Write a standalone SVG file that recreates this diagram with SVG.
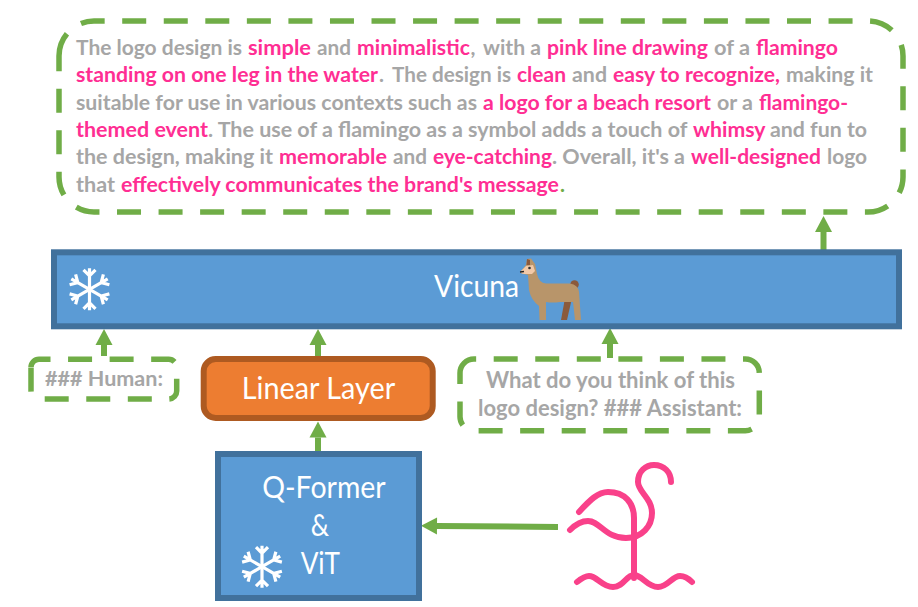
<svg xmlns="http://www.w3.org/2000/svg" width="918" height="607" viewBox="0 0 918 607">
<style>
.dash{fill:none;stroke:#70AD47;stroke-width:5.5;stroke-dasharray:24 17.55}
.blue{fill:#5B9BD5;stroke:#41719C;stroke-width:6}
.orange{fill:#ED7D31;stroke:#AE5A21;stroke-width:6}
.w{font-family:Lato,"Liberation Sans",sans-serif;font-size:30px;fill:#fff}
.g{font-family:Lato,"Liberation Sans",sans-serif;font-size:21px;font-weight:700;fill:#A6A6A6}
.p{fill:#FF2E93}
.conn{fill:none;stroke:#70AD47;stroke-width:6}
.fl{fill:none;stroke:#F9418A;stroke-width:6;stroke-linecap:round;stroke-linejoin:round}
</style>
<defs>
<marker id="ah" markerUnits="userSpaceOnUse" markerWidth="17" markerHeight="18" refX="0" refY="9" orient="auto" overflow="visible"><path d="M0,0.5 L16,9 L0,17.5 Z" fill="#70AD47"/></marker>
<g id="arm"><path d="M0,0V-21M-6,-19.5L0,-13.5L6,-19.5" fill="none" stroke="#fff" stroke-width="3.2"/></g>
<g id="flake">
<use href="#arm"/><use href="#arm" transform="rotate(60)"/><use href="#arm" transform="rotate(120)"/><use href="#arm" transform="rotate(180)"/><use href="#arm" transform="rotate(240)"/><use href="#arm" transform="rotate(300)"/>
</g>
</defs>
<rect width="918" height="607" fill="#fff"/>
<g id="connectors">
<path class="conn" marker-end="url(#ah)" d="M823.5,250V232"/>
<path class="conn" marker-end="url(#ah)" d="M104,356V345"/>
<path class="conn" marker-end="url(#ah)" d="M318,356V345"/>
<path class="conn" marker-end="url(#ah)" d="M610,358V344"/>
<path class="conn" marker-end="url(#ah)" d="M318,451V437.5"/>
<path class="conn" marker-end="url(#ah)" d="M558,527L437,526"/>
</g>
<g id="output">
<path class="dash" d="M59,56A35,35 0 0 1 94,21H868A35,35 0 0 1 903,56V177A35,35 0 0 1 868,212H94A35,35 0 0 1 59,177Z"/>
<text class="g" y="55"><tspan x="76" textLength="166" lengthAdjust="spacingAndGlyphs">The logo design is</tspan> <tspan class="p" x="248" textLength="63" lengthAdjust="spacingAndGlyphs">simple</tspan> <tspan x="317" textLength="34" lengthAdjust="spacingAndGlyphs">and</tspan> <tspan class="p" x="357" textLength="113" lengthAdjust="spacingAndGlyphs">minimalistic</tspan><tspan x="470.500">,</tspan> <tspan x="483" textLength="58" lengthAdjust="spacingAndGlyphs">with a</tspan> <tspan class="p" x="547" textLength="161" lengthAdjust="spacingAndGlyphs">pink line drawing</tspan> <tspan x="714" textLength="36" lengthAdjust="spacingAndGlyphs">of a</tspan> <tspan class="p" x="756" textLength="82" lengthAdjust="spacingAndGlyphs">flamingo</tspan></text>
<text class="g" y="82"><tspan class="p" x="76" textLength="302" lengthAdjust="spacingAndGlyphs">standing on one leg in the water</tspan><tspan x="379">.</tspan> <tspan x="392" textLength="119" lengthAdjust="spacingAndGlyphs">The design is</tspan> <tspan class="p" x="517" textLength="49" lengthAdjust="spacingAndGlyphs">clean</tspan> <tspan x="572" textLength="35" lengthAdjust="spacingAndGlyphs">and</tspan> <tspan class="p" x="613" textLength="167" lengthAdjust="spacingAndGlyphs">easy to recognize,</tspan> <tspan x="786" textLength="87" lengthAdjust="spacingAndGlyphs">making it</tspan></text>
<text class="g" y="110"><tspan x="76" textLength="401" lengthAdjust="spacingAndGlyphs">suitable for use in various contexts such as</tspan> <tspan class="p" x="483" textLength="228" lengthAdjust="spacingAndGlyphs">a logo for a beach resort</tspan> <tspan x="717" textLength="36" lengthAdjust="spacingAndGlyphs">or a</tspan> <tspan class="p" x="759" textLength="89" lengthAdjust="spacingAndGlyphs">flamingo-</tspan></text>
<text class="g" y="137"><tspan class="p" x="76" textLength="132" lengthAdjust="spacingAndGlyphs">themed event</tspan><tspan x="208" textLength="479" lengthAdjust="spacingAndGlyphs">. The use of a flamingo as a symbol adds a touch of</tspan> <tspan class="p" x="693" textLength="72" lengthAdjust="spacingAndGlyphs">whimsy</tspan> <tspan x="770" textLength="97" lengthAdjust="spacingAndGlyphs">and fun to</tspan></text>
<text class="g" y="164"><tspan x="76" textLength="197" lengthAdjust="spacingAndGlyphs">the design, making it</tspan> <tspan class="p" x="279" textLength="108" lengthAdjust="spacingAndGlyphs">memorable</tspan> <tspan x="393" textLength="34" lengthAdjust="spacingAndGlyphs">and</tspan> <tspan class="p" x="433" textLength="119" lengthAdjust="spacingAndGlyphs">eye-catching</tspan><tspan x="552" textLength="133" lengthAdjust="spacingAndGlyphs">. Overall, it's a</tspan> <tspan class="p" x="691" textLength="130" lengthAdjust="spacingAndGlyphs">well-designed</tspan> <tspan x="827" textLength="40" lengthAdjust="spacingAndGlyphs">logo</tspan></text>
<text class="g" y="192"><tspan x="76" textLength="39" lengthAdjust="spacingAndGlyphs">that</tspan> <tspan class="p" x="121" textLength="438" lengthAdjust="spacingAndGlyphs">effectively communicates the brand's message</tspan><tspan x="560" style="fill:#70AD47">.</tspan></text>
</g>
<g id="vicuna">
<rect class="blue" x="54" y="252.3" width="845" height="74"/>
<use href="#flake" transform="translate(89.5,289.3)"/>
<text class="w" x="434" y="297" textLength="85" lengthAdjust="spacingAndGlyphs">Vicuna</text>
<path fill="#8B5A3C" d="M565,298L572,298L567,320L561,320Z"/>
<circle cx="574.5" cy="284.5" r="4.3" fill="#8B5A3C"/>
<path fill="#B8956A" d="M531,258.500L535,264L537,274Q539,283 546,283.500L570,283.500Q578,284.500 579,292L581,320L575,320L573,302L560,302Q552,303 546,302L546,320L539.500,320L539,306Q531,300 529,290L528,275L524,274Q519,273 521,271L526,265L527,259Z"/>
<path fill="#F2C9A8" d="M526,266L533,265L535,271L532,274L524,274Q519,273 521,271Z"/>
<path fill="#8B5A3C" d="M526.500,265L527,259L530,260L530,265Z"/>
<circle cx="529.500" cy="268" r="1.300" fill="#333"/>
<path d="M520,272L524,271.500" stroke="#222" stroke-width="1.500"/>
</g>
<g id="human">
<path class="dash" d="M31,367.300A8,8 0 0 1 39,359.300H168.700A8,8 0 0 1 176.700,367.300V391A8,8 0 0 1 168.700,399H39A8,8 0 0 1 31,391Z"/>
<text class="g" x="45" y="385.700" textLength="118" lengthAdjust="spacingAndGlyphs">### Human:</text>
</g>
<g id="linear-layer">
<rect class="orange" x="203.700" y="359" width="229" height="59" rx="12"/>
<text class="w" x="241.700" y="399" textLength="153.500" lengthAdjust="spacingAndGlyphs">Linear Layer</text>
</g>
<g id="question">
<path class="dash" d="M460,373A14,14 0 0 1 474,359H745.300A14,14 0 0 1 759.300,373V416.700A14,14 0 0 1 745.300,430.700H474A14,14 0 0 1 460,416.700Z"/>
<text class="g" style="font-size:23px"><tspan x="486" y="388" textLength="249" lengthAdjust="spacingAndGlyphs">What do you think of this</tspan> <tspan x="478" y="416" textLength="264" lengthAdjust="spacingAndGlyphs">logo design? ### Assistant:</tspan></text>
</g>
<g id="qformer">
<rect class="blue" x="218" y="454" width="201" height="144"/>
<text class="w"><tspan x="262.300" y="498" textLength="122.700" lengthAdjust="spacingAndGlyphs">Q-Former</tspan> <tspan x="310.700" y="535.700" textLength="18.300" lengthAdjust="spacingAndGlyphs">&amp;</tspan> <tspan x="300.700" y="574" textLength="39.300" lengthAdjust="spacingAndGlyphs">ViT</tspan></text>
<use href="#flake" transform="translate(262,566.700)"/>
</g>
<g id="flamingo">
<path class="fl" d="M579,512C590,500 598,492 608,492C625,492 634,503 634,518L634,578"/>
<path class="fl" d="M570,530C576,524 582,521 588,521C600,521 605,538 626,538C642,538 652,526 652,513C652,498 638,492 638,482C638,471 646,465 654,465C664,465 671,472 671,482"/>
<path class="fl" d="M577,582C582,578 585,576 589,576C597,576 602,587 613,587C624,587 626,575 634,575C642,575 647,587 658,587C668,587 672,576 680,576C685,576 689,579 692,582"/>
</g>
</svg>
